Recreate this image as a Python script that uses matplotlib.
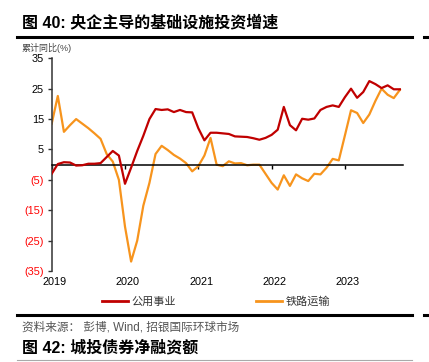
import numpy as np
import matplotlib
matplotlib.use("Agg")
import matplotlib.pyplot as plt
from matplotlib.lines import Line2D

plt.rcParams['font.family'] = ['Liberation Sans', 'Noto Sans CJK SC']

# monthly, Jan 2019 .. Oct 2023 (cumulative yoy, %)
months = np.arange(58)
utilities = [-3.0, 0.2, 0.8, 0.7, -0.3, -0.2, 0.3, 0.3, 0.5, 2.5, 4.5, 3.0,
             -6.3, -1.0, 4.5, 9.5, 15.0, 18.3, 18.0, 18.2, 17.3, 18.0, 17.3, 17.2,
             12.0, 8.0, 10.5, 10.5, 10.3, 10.1, 9.3, 9.2, 9.1, 8.7, 8.2, 8.8,
             9.8, 11.5, 19.0, 13.0, 11.3, 15.1, 14.8, 15.2, 18.0, 19.0, 19.5, 19.0,
             22.2, 25.0, 22.0, 23.9, 27.5, 26.5, 25.2, 26.1, 24.8, 24.8]
railway = [13.5, 22.6, 10.8, 13.0, 15.0, 13.5, 12.0, 10.3, 8.5, 3.5, 1.0, -5.0,
           -20.4, -31.9, -25.0, -13.5, -6.0, 3.5, 6.2, 4.8, 3.2, 2.0, 0.5, -2.2,
           -0.5, 3.0, 8.8, 0.0, -0.5, 1.1, 0.4, 0.5, -0.2, 0.0, 0.0, -3.0,
           -6.0, -8.2, -3.5, -7.0, -3.2, -4.5, -5.4, -3.0, -3.2, -1.0, 1.9, 1.4,
           9.6, 17.9, 17.0, 13.7, 16.5, 21.0, 25.0, 23.0, 21.9, 24.6]
series_names = ['公用事业', '铁路运输']
years = [2019, 2020, 2021, 2022, 2023]
yticks = [-35, -25, -15, -5, 5, 15, 25, 35]
ytick_labels = ['(35)', '(25)', '(15)', '(5)', '5', '15', '25', '35']

RED = '#c00000'
ORANGE = '#f7941d'
W, H = 429, 362

fig = plt.figure(figsize=(W / 100, H / 100), dpi=100)
ax = fig.add_axes([51.7 / W, 1 - 271 / H, (403 - 51.7) / W, (271 - 58.3) / H])

x = 2019 + months / 12
ax.plot(x, utilities, color=RED, lw=1.6, solid_joinstyle='round', zorder=3)
ax.plot(x, railway, color=ORANGE, lw=1.6, solid_joinstyle='round', zorder=2)

ax.set_xlim(2019, 2019 + (403 - 51.7) / 73.3)
ax.set_ylim(-35, 35)

for s in ['top', 'right']:
    ax.spines[s].set_visible(False)
ax.spines['left'].set_color('#333333')
ax.spines['left'].set_linewidth(1.1)
ax.spines['bottom'].set_position(('data', 0))
ax.spines['bottom'].set_color('black')
ax.spines['bottom'].set_linewidth(1.1)

ax.set_yticks(yticks)
ax.set_yticklabels(ytick_labels)
ax.tick_params(axis='y', direction='out', length=3, width=1, color='#333333',
               labelsize=7.8, pad=2.5)
for lab, v in zip(ax.get_yticklabels(), yticks):
    lab.set_color('#ff0000' if v < 0 else 'black')

ax.set_xticks(years)
ax.tick_params(axis='x', direction='out', length=3, width=1, labelbottom=False)

sec = ax.secondary_xaxis('bottom')
sec.set_xticks([y + 0.04 for y in years])
sec.set_xticklabels([str(y) for y in years])
sec.spines['bottom'].set_visible(False)
sec.tick_params(length=0, labelsize=7.8, pad=4)

# header / footer
fig.text(22 / W, 1 - 22 / H, '图 40: 央企主导的基础设施投资增速', fontsize=11.5,
         fontweight='bold', va='center', ha='left')
fig.add_artist(Line2D([17 / W, 412 / W], [1 - 37 / H] * 2, color='black', lw=2.2))
fig.add_artist(Line2D([424 / W, 1.0], [1 - 37 / H] * 2, color='black', lw=2.2))
fig.text(22 / W, 1 - 48 / H, '累计同比(%)', fontsize=6.5, color='#444444',
         va='center', ha='left')

handles = [Line2D([], [], color=RED, lw=2), Line2D([], [], color=ORANGE, lw=2)]
leg = fig.legend(handles, series_names, loc='center', bbox_to_anchor=(216 / W, 1 - 302 / H),
                 ncol=2, frameon=False, fontsize=8, handlelength=2.3, handletextpad=0.35,
                 columnspacing=7.2)
for t in leg.get_texts():
    t.set_color('#333333')

fig.add_artist(Line2D([17 / W, 412 / W], [1 - 314.5 / H] * 2, color='black', lw=2.2))
fig.add_artist(Line2D([424 / W, 1.0], [1 - 314.5 / H] * 2, color='black', lw=2.2))
fig.text(22 / W, 1 - 327 / H, '资料来源： 彭博, Wind, 招银国际环球市场', fontsize=8.4,
         color='#555555', va='center', ha='left')
fig.text(22 / W, 1 - 348 / H, '图 42: 城投债券净融资额', fontsize=11.5,
         fontweight='bold', va='center', ha='left')
fig.add_artist(Line2D([17 / W, 412 / W], [1 - 359.5 / H] * 2, color='#aaaaaa', lw=0.8))

fig.savefig('out.png', dpi=100)
